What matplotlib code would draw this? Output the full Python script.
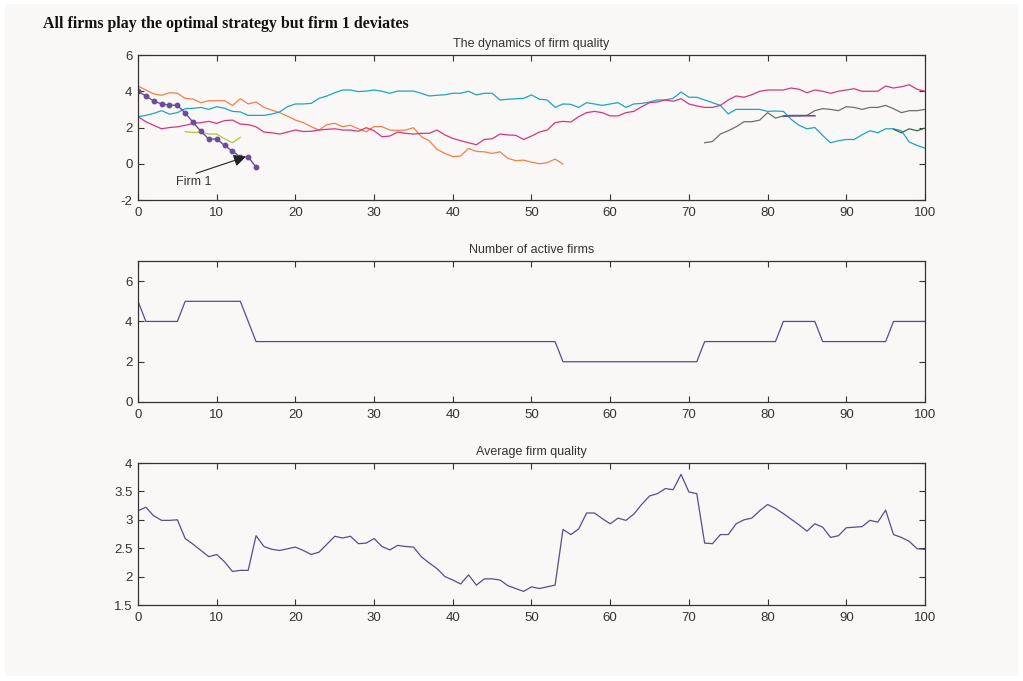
import matplotlib
matplotlib.use("Agg")
import matplotlib.pyplot as plt
from matplotlib.patches import Rectangle
import numpy as np

# ---------------- data ----------------
# Top panel: firm quality trajectories
firm1_x = list(range(0, 16))
firm1_q = [4.0, 3.74, 3.46, 3.30, 3.24, 3.22, 2.80, 2.28, 1.79, 1.36, 1.36, 1.01, 0.70, 0.37, 0.39, -0.20]

orange_x = list(range(0, 55))
orange_q = [4.29, 4.07, 3.85, 3.78, 3.92, 3.89, 3.61, 3.57, 3.37, 3.48,
            3.48, 3.48, 3.22, 3.59, 3.30, 3.41, 3.11, 2.96, 2.82, 2.63,
            2.41, 2.27, 2.05, 1.86, 2.16, 2.23, 2.05, 2.12, 1.93, 1.77,
            2.05, 2.05, 1.86, 1.84, 1.86, 1.99, 1.49, 1.27, 0.79, 0.57,
            0.39, 0.43, 0.85, 0.68, 0.66, 0.57, 0.66, 0.30, 0.17, 0.20,
            0.09, 0.00, 0.06, 0.26, -0.02]

cyan_x = list(range(0, 101))
cyan_q = [2.60, 2.67, 2.78, 2.93, 2.74, 2.82, 3.04, 3.06, 3.11, 3.00,
          3.15, 3.06, 2.89, 2.86, 2.67, 2.67, 2.67, 2.74, 2.86, 3.15,
          3.30, 3.30, 3.33, 3.61, 3.74, 3.92, 4.07, 4.07, 3.98, 4.01,
          4.07, 4.00, 3.89, 4.01, 4.01, 4.01, 3.89, 3.74, 3.78, 3.81,
          3.89, 3.89, 4.00, 3.80, 3.89, 3.89, 3.52, 3.56, 3.59, 3.61,
          3.80, 3.56, 3.52, 3.11, 3.30, 3.28, 3.11, 3.37, 3.30, 3.22,
          3.30, 3.37, 3.11, 3.30, 3.33, 3.41, 3.52, 3.52, 3.61, 3.96,
          3.67, 3.67, 3.52, 3.37, 3.22, 2.75, 3.00, 3.00, 3.00, 3.00,
          2.89, 2.91, 2.89, 2.45, 2.12, 1.93, 2.00, 1.56, 1.16, 1.27,
          1.34, 1.34, 1.60, 1.82, 1.71, 1.93, 1.93, 1.82, 1.20, 1.01,
          0.86]

magenta_x = list(range(0, 101))
magenta_q = [2.60, 2.32, 2.12, 1.93, 2.00, 2.04, 2.12, 2.23, 2.27, 2.34,
             2.23, 2.38, 2.41, 2.19, 2.16, 2.04, 1.75, 1.71, 1.64, 1.75,
             1.86, 1.78, 1.79, 1.86, 1.90, 1.93, 1.86, 1.86, 1.79, 1.99,
             1.82, 1.49, 1.53, 1.75, 1.68, 1.64, 1.68, 1.68, 1.86, 1.59,
             1.40, 1.27, 1.16, 1.05, 1.34, 1.38, 1.64, 1.59, 1.57, 1.34,
             1.53, 1.75, 1.86, 2.27, 2.34, 2.30, 2.60, 2.82, 2.89, 2.82,
             2.64, 2.64, 2.82, 2.89, 3.15, 3.37, 3.41, 3.52, 3.45, 3.59,
             3.30, 3.19, 3.11, 3.11, 3.22, 3.52, 3.74, 3.67, 3.81, 4.00,
             4.07, 4.07, 4.07, 4.18, 4.11, 3.92, 4.07, 4.00, 3.89, 4.00,
             4.07, 4.14, 4.00, 4.00, 4.00, 4.29, 4.18, 4.25, 4.36, 4.11,
             4.00]

olive_x = list(range(6, 14))
olive_q = [1.77, 1.73, 1.73, 1.64, 1.64, 1.38, 1.16, 1.46]

gray_x = list(range(72, 101))
gray_q = [1.16, 1.23, 1.64, 1.82, 2.04, 2.32, 2.32, 2.41, 2.82, 2.52,
          2.64, 2.67, 2.67, 2.67, 2.93, 3.04, 3.00, 2.93, 3.15, 3.11,
          3.00, 3.11, 3.11, 3.22, 3.04, 2.82, 2.93, 2.93, 3.00]

violet_x = list(range(82, 87))
violet_q = [2.62, 2.64, 2.64, 2.65, 2.65]

green_x = list(range(96, 101))
green_q = [1.90, 1.71, 1.93, 1.82, 1.97]

# Middle panel: number of active firms
t = list(range(0, 101))
n_active = ([5] + [4] * 5 + [5] * 8 + [4] + [3] * 39 + [2] * 18 +
            [3] * 10 + [4] * 5 + [3] * 9 + [4] * 5)

# Bottom panel: average firm quality
avg_q = [3.16, 3.22, 3.07, 2.99, 2.99, 3.00, 2.67, 2.57, 2.46, 2.35,
         2.39, 2.26, 2.09, 2.11, 2.11, 2.72, 2.53, 2.48, 2.46, 2.49,
         2.52, 2.46, 2.39, 2.43, 2.57, 2.71, 2.68, 2.71, 2.58, 2.59,
         2.67, 2.53, 2.47, 2.55, 2.53, 2.52, 2.35, 2.24, 2.14, 2.00,
         1.94, 1.87, 2.03, 1.85, 1.96, 1.96, 1.94, 1.84, 1.79, 1.74,
         1.82, 1.79, 1.82, 1.85, 2.83, 2.74, 2.84, 3.12, 3.12, 3.02,
         2.93, 3.03, 2.99, 3.10, 3.27, 3.42, 3.46, 3.55, 3.53, 3.80,
         3.49, 3.46, 2.59, 2.58, 2.74, 2.74, 2.93, 3.00, 3.03, 3.16,
         3.27, 3.20, 3.11, 3.01, 2.91, 2.80, 2.93, 2.87, 2.69, 2.72,
         2.86, 2.87, 2.88, 2.99, 2.96, 3.17, 2.74, 2.69, 2.62, 2.49,
         2.48]

main_title = "All firms play the optimal strategy but firm 1 deviates"
titles = ["The dynamics of firm quality", "Number of active firms", "Average firm quality"]

# ---------------- figure ----------------
plt.rcParams['font.family'] = ['Liberation Sans', 'DejaVu Sans']
plt.rcParams['axes.unicode_minus'] = False
fig = plt.figure(figsize=(10.23, 6.81), dpi=100, facecolor='white')
bg = '#f9f8f7'
fig.patches.append(Rectangle((5 / 1023, 1 - 676 / 681), 1013 / 1023, 672 / 681,
                             transform=fig.transFigure, facecolor=bg,
                             edgecolor='none', zorder=-10))

L, W = 0.1349, 0.7693
ax1 = fig.add_axes([L, 0.7063, W, 0.2129])
ax2 = fig.add_axes([L, 0.4097, W, 0.2070])
ax3 = fig.add_axes([L, 0.1116, W, 0.2085])

for ax, ttl in zip([ax1, ax2, ax3], titles):
    ax.set_facecolor(bg)
    ax.set_xlim(0, 100)
    ax.set_xticks(range(0, 101, 10))
    ax.tick_params(direction='in', top=True, right=True, length=4,
                   labelsize=9.5, colors='#333333', width=0.8)
    ax.tick_params(axis='x', pad=5)
    ax.tick_params(axis='y', pad=4)
    for s in ax.spines.values():
        s.set_color('#333333')
        s.set_linewidth(0.9)
    ax.set_title(ttl, fontsize=9, color='#333333', pad=6)

lw = 0.9
ax1.plot(orange_x, orange_q, color='#f47f4c', lw=lw)
ax1.plot(cyan_x, cyan_q, color='#1ca5be', lw=lw)
ax1.plot(magenta_x, magenta_q, color='#d8357c', lw=lw)
ax1.plot(olive_x, olive_q, color='#b5c23a', lw=lw)
ax1.plot(gray_x, gray_q, color='#6e6e6e', lw=lw)
ax1.plot(violet_x, violet_q, color='#6a4e96', lw=1.2)
ax1.plot(green_x, green_q, color='#2f6b4c', lw=lw)
ax1.plot(firm1_x, firm1_q, color='#6a4e96', lw=1.0, marker='o', markersize=3.2)
ax1.set_ylim(-2, 6)
ax1.set_yticks([-2, 0, 2, 4, 6])
ax1.annotate('', xy=(13.7, 0.39), xytext=(7.37, -0.53),
             arrowprops=dict(arrowstyle='-|>', color='#222222', lw=0.8,
                             mutation_scale=18, shrinkA=0, shrinkB=0))
ax1.text(4.8, -1.02, 'Firm 1', fontsize=9, color='#333333', va='center', ha='left')

ax2.plot(t, n_active, color='#5e4a8b', lw=0.9)
ax2.set_ylim(0, 7)
ax2.set_yticks([0, 2, 4, 6])

ax3.plot(t, avg_q, color='#5e4a8b', lw=0.9)
ax3.set_ylim(1.5, 4)
ax3.set_yticks([1.5, 2, 2.5, 3, 3.5, 4])
ax3.set_yticklabels(['1.5', '2', '2.5', '3', '3.5', '4'])

fig.text(43 / 1023, 1 - 24 / 681, main_title, fontsize=11.4, fontweight='bold',
         family=['Liberation Serif', 'DejaVu Serif'], color='#111111',
         va='center', ha='left')

fig.savefig('out.png', dpi=100, facecolor=fig.get_facecolor())
